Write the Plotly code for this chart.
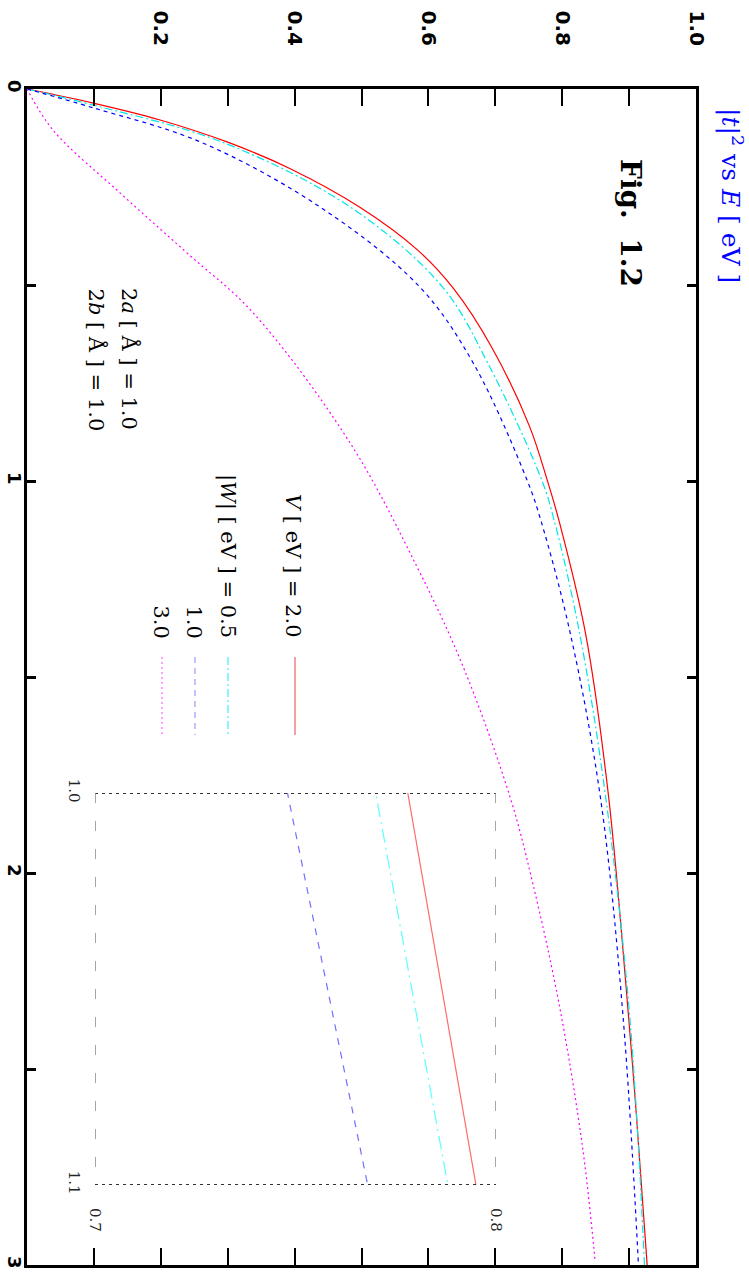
import plotly.graph_objects as go

# |t|^2 versus E for a barrier with V = 2.0 eV and several absorption strengths |W|
E_red = [0, 0.036, 0.079, 0.135, 0.202, 0.301, 0.411, 0.51, 0.66, 0.86, 1.0, 1.1, 1.39,
         1.80, 2.28, 2.62, 3.0]
T_red = [0, 0.099, 0.199, 0.299, 0.392, 0.497, 0.584, 0.638, 0.695, 0.751, 0.778, 0.795,
         0.835, 0.869, 0.895, 0.911, 0.927]

E_cyan = [0, 0.041, 0.135, 0.301, 0.505, 0.70, 1.0, 1.1, 1.388, 1.806, 2.367, 3.0]
T_cyan = [0, 0.099, 0.291, 0.483, 0.621, 0.689, 0.770, 0.788, 0.826, 0.865, 0.901, 0.923]

E_blue = [0, 0.048, 0.135, 0.301, 0.505, 0.699, 1.0, 1.1, 1.388, 1.806, 2.367, 3.0]
T_blue = [0, 0.099, 0.259, 0.438, 0.587, 0.667, 0.748, 0.768, 0.812, 0.857, 0.891, 0.914]

E_mag = [0, 0.105, 0.265, 0.418, 0.571, 0.903, 1.219, 1.474, 1.806, 2.026, 2.349, 2.707,
         2.987]
T_mag = [0, 0.039, 0.139, 0.239, 0.338, 0.483, 0.583, 0.652, 0.722, 0.756, 0.797, 0.831,
         0.849]

# axis ticks
t_tickvals = [0.2, 0.4, 0.6, 0.8, 1.0]
t_ticktext = ["0.2", "0.4", "0.6", "0.8", "1.0"]
e_tickvals = [0, 1, 2, 3]
e_ticktext = ["0", "1", "2", "3"]

# magnified window
inset_t = [0.7, 0.8]
inset_e = [1.0, 1.1]
inset_ttext = ["0.7", "0.8"]
inset_etext = ["1.0", "1.1"]

W, H = 749, 1274
ML, MR, MT, MB = 27, 53, 89, 9
PW, PH = W - ML - MR, H - MT - MB


def px(x):
    return (x - ML) / PW


def py(y):
    return 1 - (y - MT) / PH


curves = [
    (T_red, E_red, "#ff0000", "solid", "#ff6a6a", "solid"),
    (T_cyan, E_cyan, "#00e6e6", "8px,3px,2px,3px", "#5cffff", "14px,5px,2px,5px"),
    (T_blue, E_blue, "#0000ff", "4px,4px", "#7070ff", "7px,7px"),
    (T_mag, E_mag, "#ff00ff", "2px,3px", "#ff66ff", "2px,3px"),
]

fig = go.Figure()
for t, e, col, dash, icol, idash in curves:
    fig.add_trace(go.Scatter(x=t, y=e, mode="lines", xaxis="x", yaxis="y",
                             line=dict(color=col, width=1.2, dash=dash, shape="spline",
                                       smoothing=1.0),
                             hoverinfo="skip"))
    fig.add_trace(go.Scatter(x=t, y=e, mode="lines", xaxis="x2", yaxis="y2",
                             line=dict(color=icol, width=1.2, dash=idash),
                             hoverinfo="skip"))

tickfont_t = dict(family="DejaVu Sans", size=20, color="black", weight="bold")
tickfont_e = dict(family="DejaVu Sans", size=18, color="black", weight="bold")
serif = "DejaVu Serif"

fig.update_layout(
    width=W, height=H,
    margin=dict(l=ML, r=MR, t=MT, b=MB, pad=0, autoexpand=False),
    paper_bgcolor="white", plot_bgcolor="white",
    showlegend=False,
    xaxis=dict(range=[0, 1], side="top", tickmode="array", tickvals=t_tickvals,
               ticktext=t_ticktext, tickangle=90, ticks="inside", ticklen=17,
               tickwidth=1.5, tickcolor="black", showline=True, linewidth=3,
               linecolor="black", mirror="ticks", showgrid=False, zeroline=False,
               tickfont=tickfont_t, ticklabelstandoff=33, automargin=False,
               minor=dict(ticks="inside", ticklen=17, tickwidth=1.5, tickcolor="black",
                          tick0=0, dtick=0.1, showgrid=False)),
    yaxis=dict(range=[3, 0], tickmode="array", tickvals=e_tickvals, ticktext=e_ticktext,
               tickangle=90, ticks="inside", ticklen=9, tickwidth=3, tickcolor="black",
               showline=True, linewidth=3, linecolor="black", mirror="ticks",
               showgrid=False, zeroline=False, tickfont=tickfont_e, ticklabelstandoff=-6,
               automargin=False,
               minor=dict(ticks="inside", ticklen=9, tickwidth=3, tickcolor="black",
                          tick0=0, dtick=0.5, showgrid=False)),
    xaxis2=dict(domain=[px(95), px(496)], range=inset_t, anchor="y2", side="bottom",
                tickmode="array", tickvals=inset_t, ticktext=inset_ttext, tickangle=90,
                ticks="", showline=False, showgrid=False, zeroline=False, automargin=False,
                tickfont=dict(family=serif, size=15, color="#222"), ticklabelstandoff=22),
    yaxis2=dict(domain=[py(1185), py(793)], range=inset_e[::-1], anchor="x2", side="left",
                tickmode="array", tickvals=inset_e, ticktext=inset_etext, tickangle=90,
                ticks="", showline=False, showgrid=False, zeroline=False, automargin=False,
                tickfont=dict(family=serif, size=15, color="#222"), ticklabelstandoff=10),
)

# frame of the magnified window
box_dot = dict(color="#333", width=2, dash="3px,4px")
box_dash = dict(color="#888", width=1.5, dash="10px,18px")
fig.add_shape(type="line", xref="x2", yref="y2", x0=inset_t[0], x1=inset_t[1],
              y0=inset_e[0], y1=inset_e[0], line=box_dot)
fig.add_shape(type="line", xref="x2", yref="y2", x0=inset_t[0], x1=inset_t[1],
              y0=inset_e[1], y1=inset_e[1], line=box_dot)
fig.add_shape(type="line", xref="x2", yref="y2", x0=inset_t[0], x1=inset_t[0],
              y0=inset_e[0], y1=inset_e[1], line=box_dash)
fig.add_shape(type="line", xref="x2", yref="y2", x0=inset_t[1], x1=inset_t[1],
              y0=inset_e[0], y1=inset_e[1], line=box_dash)

# key lines
for xpix, col, dash in [(295, "#f06060", "solid"), (228, "#40f0f0", "8px,3px,2px,3px"),
                        (195, "#9a9aff", "6px,5px"), (162, "#ff66ff", "2px,3px")]:
    fig.add_shape(type="line", xref="paper", yref="paper", x0=px(xpix), x1=px(xpix),
                  y0=py(657), y1=py(735), line=dict(color=col, width=1.2, dash=dash))


def label(text, x, y, size, yanchor="middle", color="black", family=serif):
    fig.add_annotation(text=text, xref="paper", yref="paper", x=px(x), y=py(y),
                       textangle=90, showarrow=False, xanchor="center", yanchor=yanchor,
                       font=dict(family=family, size=size, color=color))


label("|<i>t</i>|<sup>2</sup> vs <i>E</i> [ eV ]", 731, 195, 25, color="#0000ff")
label("<b>Fig.\u00a0 1.2</b>", 630, 223, 28)
label("2<i>a</i> [ Å ] = 1.0", 130, 286, 21, yanchor="top")
label("2<i>b</i> [ Å ] = 1.0", 96, 286, 21, yanchor="top")
label("<i>V</i> [ eV ] = 2.0", 293, 640, 21, yanchor="bottom")
label("|<i>W</i>| [ eV ] = 0.5", 228, 640, 21, yanchor="bottom")
label("1.0", 194, 640, 21, yanchor="bottom")
label("3.0", 161, 640, 21, yanchor="bottom")

fig.write_html("out.html")
